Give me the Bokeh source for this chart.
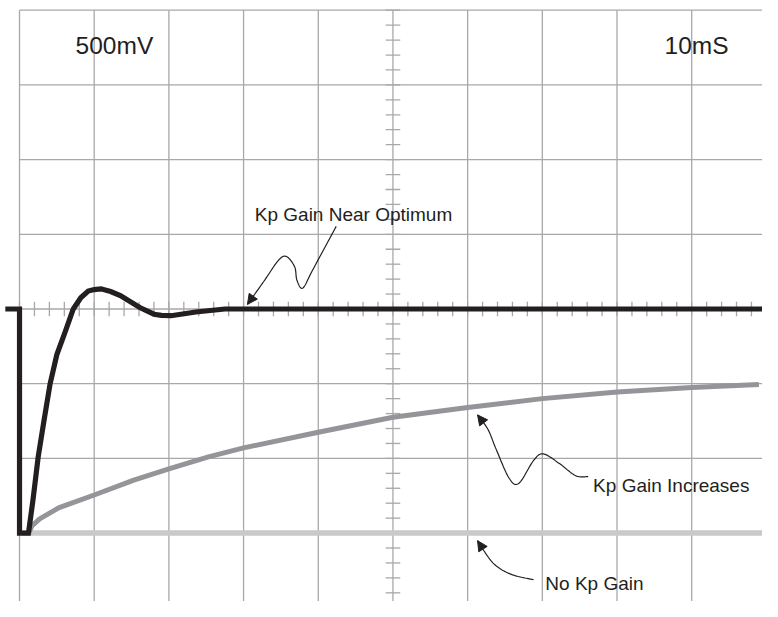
import numpy as np
from bokeh.plotting import figure
from bokeh.models import Range1d, Arrow, NormalHead
from bokeh.core.properties import value
from bokeh.embed import file_html
from bokeh.resources import INLINE

# ---- data (time in ms, 10 ms/div; voltage in V, 500 mV/div) ----
optimum_t = [-1.9, 0.0, 0.0, 1.2, 1.8, 2.5, 3.3, 4.1, 5.0, 6.1, 7.2, 8.2, 9.2, 10.0, 10.9,
             12.2, 13.5, 16.1, 18.0, 19.0, 20.3, 23.6, 27.5, 30.1, 100.0]
optimum_v = [0.0, 0.0, -1.5, -1.5, -1.28, -0.99, -0.74, -0.50, -0.305, -0.155, 0.0,
             0.075, 0.12, 0.13, 0.135, 0.117, 0.09, 0.01, -0.035, -0.043, -0.045, -0.02,
             0.0, 0.0, 0.0]

increase_t = [1.2, 1.7, 2.7, 5.3, 10.0, 15.3, 20.0, 25.3, 30.0, 40.0, 50.0, 60.0, 70.0,
              80.0, 90.0, 99.0]
increase_v = [-1.5, -1.45, -1.405, -1.33, -1.245, -1.145, -1.07, -0.99, -0.93, -0.825,
              -0.725, -0.66, -0.60, -0.555, -0.525, -0.505]

nogain_t = [0.3, 100.0]
nogain_v = [-1.5, -1.5]

volts_label = "500mV"
time_label = "10mS"
label_optimum = "Kp Gain Near Optimum"
label_increase = "Kp Gain Increases"
label_nogain = "No Kp Gain"

# ---- styles ----
INK = "#231f20"
GRID = "#a8a8a8"
FONT = "Liberation Sans"

p = figure(width=762, height=601,
           x_range=Range1d(-2.546, 99.48), y_range=Range1d(-1.958, 2.065),
           output_backend="svg", toolbar_location=None, min_border=0,
           x_axis_type=None, y_axis_type=None)
p.outline_line_color = None
p.background_fill_color = "white"
p.border_fill_color = "white"

# graticule
gx = np.arange(0, 101, 10)
gy = np.arange(-2.0, 2.01, 0.5)
p.segment(x0=gx, y0=-2.0, x1=gx, y1=2.0, line_color=GRID, line_width=1.3)
p.segment(x0=0, y0=gy, x1=100, y1=gy, line_color=GRID, line_width=1.3)

# center minor ticks
tx = np.arange(0, 100.1, 2)
ty = np.arange(-2.0, 2.01, 0.1)
p.segment(x0=tx, y0=-0.049, x1=tx, y1=0.049, line_color=GRID, line_width=1.3)
p.segment(x0=49.02, y0=ty, x1=50.98, y1=ty, line_color=GRID, line_width=1.3)

# traces
p.line(nogain_t, nogain_v, line_color="#c9c9cb", line_width=5.5)
p.line(increase_t, increase_v, line_color="#939598", line_width=5, line_join="round")
p.line(optimum_t, optimum_v, line_color=INK, line_width=5.2, line_join="miter")

# text labels
def label(x, y, txt, size):
    p.text(x=[x], y=[y], text=[txt], text_font=value(FONT), text_font_size=value(size),
           text_color=INK, text_align="left", text_baseline="alphabetic")

label(7.51, 1.765, volts_label, "24.5px")
label(86.36, 1.765, time_label, "24.5px")
label(31.5, 0.632, label_optimum, "19px")
label(76.8, -1.179, label_increase, "19px")
label(70.4, -1.838, label_nogain, "19px")

# curvy annotation arrows
def catmull(pts, n=16):
    pts = np.asarray(pts, dtype=float)
    ext = np.vstack([pts[0], pts, pts[-1]])
    out = []
    for i in range(1, len(ext) - 2):
        p0, p1, p2, p3 = ext[i - 1], ext[i], ext[i + 1], ext[i + 2]
        for s in np.linspace(0, 1, n, endpoint=False):
            out.append(0.5 * ((2 * p1) + (-p0 + p2) * s + (2 * p0 - 5 * p1 + 4 * p2 - p3) * s ** 2
                              + (-p0 + 3 * p1 - 3 * p2 + p3) * s ** 3))
    out.append(pts[-1])
    return np.array(out)

def pointer(pts):
    c = catmull(pts)
    p.line(c[:, 0], c[:, 1], line_color=INK, line_width=1.2)
    a, b = c[-4], c[-1]
    p.add_layout(Arrow(end=NormalHead(size=10, fill_color=INK, line_color=INK, line_width=1),
                       x_start=a[0], y_start=a[1], x_end=b[0], y_end=b[1],
                       line_color=INK, line_width=1.2))

pointer([(42.40, 0.553), (39.23, 0.259), (37.92, 0.140), (37.14, 0.194), (36.84, 0.282),
         (35.74, 0.351), (34.66, 0.325), (32.70, 0.184), (30.52, 0.031)])
pointer([(76.14, -1.122), (74.48, -1.116), (72.30, -1.035), (70.13, -0.970), (68.83, -1.014),
         (66.87, -1.166), (65.56, -1.133), (63.81, -0.938), (62.73, -0.807), (61.33, -0.709)])
pointer([(68.83, -1.812), (65.77, -1.775), (63.38, -1.699), (61.33, -1.551)])

open("out.html", "w").write(file_html(p, INLINE))
